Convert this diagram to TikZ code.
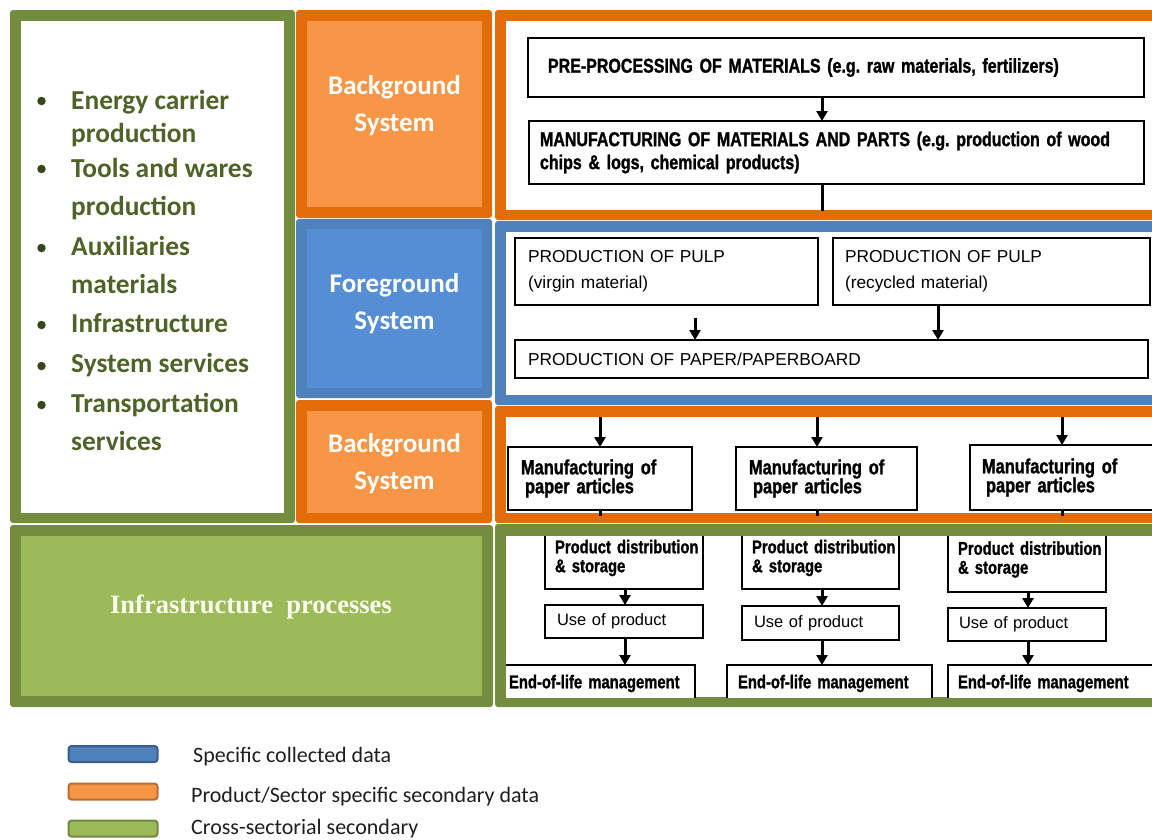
\documentclass[tikz,border=0pt]{standalone}
\usepackage{fontspec}
\setmainfont{Carlito}
\newfontfamily\calfont{Carlito}
\newfontfamily\arnfont[FakeStretch=0.8, BoldFeatures={FakeBold=1.2}]{Liberation Sans}
\newfontfamily\arfont{Liberation Sans}
\newfontfamily\tmsfont{Liberation Serif}
\usetikzlibrary{arrows.meta}
\definecolor{gborder}{RGB}{116,140,62}
\definecolor{gfill}{RGB}{155,187,89}
\definecolor{oborder}{RGB}{227,108,10}
\definecolor{ofill}{RGB}{247,150,70}
\definecolor{bborder}{RGB}{79,129,189}
\definecolor{bfill}{RGB}{85,142,213}
\definecolor{gtext}{RGB}{79,98,40}
\definecolor{lbfill}{RGB}{79,129,189}
\definecolor{lbdraw}{RGB}{56,93,138}
\definecolor{lofill}{RGB}{247,150,70}
\definecolor{lodraw}{RGB}{182,109,49}
\definecolor{lgfill}{RGB}{155,187,89}
\definecolor{lgdraw}{RGB}{113,137,63}
\definecolor{legtext}{RGB}{30,30,30}
\definecolor{cream}{RGB}{253,253,240}
\frenchspacing
\newcommand\Lline[2]{\hspace*{#1}\mbox{#2}}
\newcommand\tightlines{\lineskiplimit=-50pt\relax\frenchspacing\spaceskip=0.2em\relax}
\begin{document}
\begin{tikzpicture}[x=1pt,y=-1pt,
  pbox/.style 2 args={draw=black, line width=2.7pt, fill=white, anchor=north west,
    outer sep=0pt, inner xsep=0pt, inner ysep=0pt, align=left,
    minimum width=#1pt, text width=#1pt, minimum height=#2pt},
  hvA/.style={font={\arnfont\bfseries\fontsize{20}{23}\selectfont\tightlines}},
  hvB/.style={font={\arnfont\bfseries\fontsize{20.5}{19}\selectfont\tightlines}},
  hvC/.style={font={\arnfont\bfseries\fontsize{18.5}{19}\selectfont\tightlines}},
  ltA/.style={font={\arfont\fontsize{17.3}{26}\selectfont}},
  ltB/.style={font={\arfont\fontsize{16.5}{20}\selectfont}},
  flow/.style={line width=3pt, -{Triangle[width=11pt,length=10pt]}},
  stub/.style={line width=3pt},
  sysl/.style={text=white, font={\calfont\bfseries\fontsize{27}{37}\selectfont}, align=center, inner sep=0pt},
  item/.style={anchor=base west, text=gtext, font={\calfont\bfseries\fontsize{27.4}{30}\selectfont}, inner sep=0pt},
  dot/.style={circle, fill=gtext!70!black, inner sep=0pt, minimum size=8.5pt},
  legbox/.style={rounded corners=3pt, line width=2pt, minimum width=89pt, minimum height=16pt, inner sep=0pt},
  legt/.style={anchor=base west, font={\calfont\fontsize{22}{26}\selectfont}, text=legtext, inner sep=0pt}
]
\useasboundingbox (0,0) rectangle (1152,839);
\clip (0,0) rectangle (1152,839);

% ---------- left column panels ----------
\fill[gborder, rounded corners=3pt] (10,10) rectangle (295,523);
\fill[white] (21,21) rectangle (284,513);
\fill[oborder, rounded corners=3pt] (296,10) rectangle (492,218);
\fill[ofill] (307,21) rectangle (482,207);
\fill[bborder, rounded corners=3pt] (296,219) rectangle (492,398);
\fill[bfill] (307,229) rectangle (482,388);
\fill[oborder, rounded corners=3pt] (296,400) rectangle (492,523);
\fill[ofill] (307,411) rectangle (482,513);
\fill[gborder, rounded corners=3pt] (10,525) rectangle (493,707);
\fill[gfill] (21,536) rectangle (482,696);

\node[sysl] (bg1) at (394.5,106) {Background\\System};
\node[sysl] (fg) at (394.5,304) {Foreground\\System};
\node[sysl] (bg2) at (394.5,464) {Background\\System};
\node[anchor=base, inner sep=0pt, text=cream, font={\tmsfont\bfseries\fontsize{26.5}{30}\selectfont}] (infra) at (251,613) {Infrastructure\hspace{0.5em}processes};

\node[dot] (b1) at (41.5,101) {};
\node[dot] (b2) at (41.5,169) {};
\node[dot] (b3) at (41.5,248) {};
\node[dot] (b4) at (41.5,325) {};
\node[dot] (b5) at (41.5,366) {};
\node[dot] (b6) at (41.5,405) {};
\node[item] (i1) at (71,109) {Energy carrier};
\node[item] (i2) at (71,142) {production};
\node[item] (i3) at (71,177) {Tools and wares};
\node[item] (i4) at (71,215) {production};
\node[item] (i5) at (71,255) {Auxiliaries};
\node[item] (i6) at (71,293) {materials};
\node[item] (i7) at (71,332) {Infrastructure};
\node[item] (i8) at (71,372) {System services};
\node[item] (i9) at (71,412) {Transportation};
\node[item] (i10) at (71,450) {services};

% ---------- right column ----------
\coordinate (xa) at (822,0);
\coordinate (xr) at (938,0);
\coordinate (pvs) at (695,318);
\coordinate (t1) at (600,417);
\coordinate (t2) at (817,417);
\coordinate (t3) at (1062,417);
\coordinate (c1) at (625,0);
\coordinate (c2) at (822,0);
\coordinate (c3) at (1028,0);

% orange top
\fill[oborder, rounded corners=3pt] (495,10) rectangle (1175,220);
\fill[white] (506,21) rectangle (1175,210);
\begin{scope}
\clip (506,21) rectangle (1175,210);
\node[pbox={616}{59}, hvA] (pre) at (528,38) {\Lline{20pt}{PRE-PROCESSING OF MATERIALS (e.g. raw materials, fertilizers)}};
\node[pbox={615}{63}, hvA] (man) at (529,121) {\Lline{11pt}{MANUFACTURING OF MATERIALS AND PARTS (e.g. production of wood}\\\Lline{11pt}{chips \& logs, chemical products)}};
\draw[flow] (pre.south -| xa) -- (man.north -| xa);
\draw[stub] (man.south -| xa) -- ++(0,30);
\end{scope}

% blue
\fill[bborder, rounded corners=3pt] (495,221) rectangle (1175,405);
\fill[white] (506,232) rectangle (1175,395);
\begin{scope}
\clip (506,232) rectangle (1175,395);
\node[pbox={303}{67}, ltA] (pv) at (515,238) {\Lline{13pt}{PRODUCTION OF PULP}\\\Lline{13pt}{(virgin material)}};
\node[pbox={317}{67}, ltA] (pr) at (833,238) {\Lline{12pt}{PRODUCTION OF PULP}\\\Lline{12pt}{(recycled material)}};
\node[pbox={633}{38}, ltA] (paper) at (515,340) {\Lline{13pt}{PRODUCTION OF PAPER/PAPERBOARD}};
\draw[flow] (pvs) -- (pvs |- paper.north);
\draw[flow] (pr.south -| xr) -- (paper.north -| xr);
\end{scope}

% orange bottom
\fill[oborder, rounded corners=3pt] (495,406) rectangle (1175,523);
\fill[white] (506,417) rectangle (1175,513);
\begin{scope}
\clip (506,417) rectangle (1175,513);
\node[pbox={184}{63}, hvB] (m1) at (508,447) {\Lline{13pt}{Manufacturing of}\\\Lline{17pt}{paper articles}};
\node[pbox={181}{63}, hvB] (m2) at (736,447) {\Lline{13pt}{Manufacturing of}\\\Lline{17pt}{paper articles}};
\node[pbox={190}{65}, hvB] (m3) at (970,445) {\Lline{12pt}{Manufacturing of}\\\Lline{16pt}{paper articles}};
\draw[flow] (t1) -- (t1 |- m1.north);
\draw[flow] (t2) -- (t2 |- m2.north);
\draw[flow] (t3) -- (t3 |- m3.north);
\end{scope}
\draw[stub] (m1.south -| t1) -- ++(0,6);
\draw[stub] (m2.south -| t2) -- ++(0,6);
\draw[stub] (m3.south -| t3) -- ++(0,6);

% green
\fill[gborder, rounded corners=3pt] (495,524) rectangle (1175,707);
\fill[white] (506,536) rectangle (1175,697);
\begin{scope}
\clip (506,536) rectangle (1175,697);
\node[pbox={158}{62}, hvC] (d1) at (545,527) {\Lline{10pt}{Product distribution}\\\Lline{10pt}{\& storage}};
\node[pbox={157}{62}, hvC] (d2) at (742,527) {\Lline{10pt}{Product distribution}\\\Lline{10pt}{\& storage}};
\node[pbox={158}{65}, hvC] (d3) at (948,527) {\Lline{10pt}{Product distribution}\\\Lline{10pt}{\& storage}};
\node[pbox={158}{33}, ltB] (u1) at (545,605) {\Lline{12pt}{Use of product}};
\node[pbox={157}{34}, ltB] (u2) at (742,606) {\Lline{12pt}{Use of product}};
\node[pbox={158}{33}, ltB] (u3) at (948,608) {\Lline{11pt}{Use of product}};
\node[pbox={197}{37}, hvC] (e1) at (498,665) {\Lline{11pt}{End-of-life management}};
\node[pbox={205}{37}, hvC] (e2) at (727,665) {\Lline{11pt}{End-of-life management}};
\node[pbox={212}{37}, hvC] (e3) at (948,665) {\Lline{10pt}{End-of-life management}};
\draw[flow] (d1.south -| c1) -- (u1.north -| c1);
\draw[flow] (d2.south -| c2) -- (u2.north -| c2);
\draw[flow] (d3.south -| c3) -- (u3.north -| c3);
\draw[flow] (u1.south -| c1) -- (e1.north -| c1);
\draw[flow] (u2.south -| c2) -- (e2.north -| c2);
\draw[flow] (u3.south -| c3) -- (e3.north -| c3);
\end{scope}

% ---------- legend ----------
\node[legbox, fill=lbfill, draw=lbdraw] (lg1) at (113,754) {};
\node[legbox, fill=lofill, draw=lodraw] (lg2) at (113,791.5) {};
\node[legbox, fill=lgfill, draw=lgdraw] (lg3) at (113,828.5) {};
\node[legt] (lt1) at (193,762) {Specific collected data};
\node[legt] (lt2) at (191,802) {Product/Sector specific secondary data};
\node[legt] (lt3) at (191,834) {Cross-sectorial secondary};
\end{tikzpicture}
\end{document}
